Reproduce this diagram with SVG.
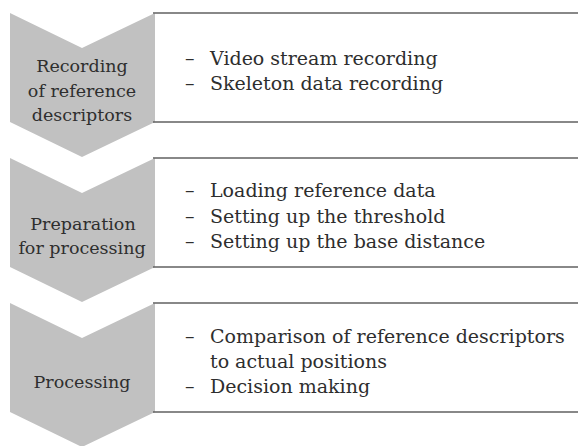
<svg xmlns="http://www.w3.org/2000/svg" width="578" height="446" viewBox="0 0 578 446">
<defs>
<style>
.chev{fill:#c1c1c1;stroke:none}
.rule{stroke:#606060;stroke-width:1.6;fill:none}
</style>
</defs>
<rect width="578" height="446" fill="#ffffff"/>
<g id="step1">
<path class="chev" d="M10,13 L82,48 L155,13 L155,122 L82,157 L10,122 Z"/>
<text font-family="DejaVu Serif" font-size="17.5" fill="#2e2e2e" text-anchor="middle" x="82" y="72">Recording</text>
<text font-family="DejaVu Serif" font-size="17.5" fill="#2e2e2e" text-anchor="middle" x="82" y="97">of reference</text>
<text font-family="DejaVu Serif" font-size="17.5" fill="#2e2e2e" text-anchor="middle" x="82" y="121">descriptors</text>
</g>
<g id="box1">
<line class="rule" x1="153" y1="13" x2="578" y2="13"/>
<line class="rule" x1="153" y1="122" x2="578" y2="122"/>
<text font-family="DejaVu Serif" font-size="19" fill="#2e2e2e" x="185" y="65">–</text>
<text font-family="DejaVu Serif" font-size="19" fill="#2e2e2e" x="210" y="65">Video stream recording</text>
<text font-family="DejaVu Serif" font-size="19" fill="#2e2e2e" x="185" y="90">–</text>
<text font-family="DejaVu Serif" font-size="19" fill="#2e2e2e" x="210" y="90">Skeleton data recording</text>
</g>
<g id="step2">
<path class="chev" d="M10,158 L82,193 L155,158 L155,267 L82,302 L10,267 Z"/>
<text font-family="DejaVu Serif" font-size="17.5" fill="#2e2e2e" text-anchor="middle" x="83" y="230">Preparation</text>
<text font-family="DejaVu Serif" font-size="17.5" fill="#2e2e2e" text-anchor="middle" x="82" y="254">for processing</text>
</g>
<g id="box2">
<line class="rule" x1="153" y1="158" x2="578" y2="158"/>
<line class="rule" x1="153" y1="267" x2="578" y2="267"/>
<text font-family="DejaVu Serif" font-size="19" fill="#2e2e2e" x="185" y="197">–</text>
<text font-family="DejaVu Serif" font-size="19" fill="#2e2e2e" x="210" y="197">Loading reference data</text>
<text font-family="DejaVu Serif" font-size="19" fill="#2e2e2e" x="185" y="223">–</text>
<text font-family="DejaVu Serif" font-size="19" fill="#2e2e2e" x="210" y="223">Setting up the threshold</text>
<text font-family="DejaVu Serif" font-size="19" fill="#2e2e2e" x="185" y="248">–</text>
<text font-family="DejaVu Serif" font-size="19" fill="#2e2e2e" x="210" y="248">Setting up the base distance</text>
</g>
<g id="step3">
<path class="chev" d="M10,303 L82,338 L155,303 L155,412 L82,447 L10,412 Z"/>
<text font-family="DejaVu Serif" font-size="17.5" fill="#2e2e2e" text-anchor="middle" x="82" y="388">Processing</text>
</g>
<g id="box3">
<line class="rule" x1="153" y1="303" x2="578" y2="303"/>
<line class="rule" x1="153" y1="412" x2="578" y2="412"/>
<text font-family="DejaVu Serif" font-size="19" fill="#2e2e2e" x="185" y="343">–</text>
<text font-family="DejaVu Serif" font-size="19" fill="#2e2e2e" x="210" y="343">Comparison of reference descriptors</text>
<text font-family="DejaVu Serif" font-size="19" fill="#2e2e2e" x="210" y="368">to actual positions</text>
<text font-family="DejaVu Serif" font-size="19" fill="#2e2e2e" x="185" y="393">–</text>
<text font-family="DejaVu Serif" font-size="19" fill="#2e2e2e" x="210" y="393">Decision making</text>
</g>
<g id="connectors"></g>
</svg>
